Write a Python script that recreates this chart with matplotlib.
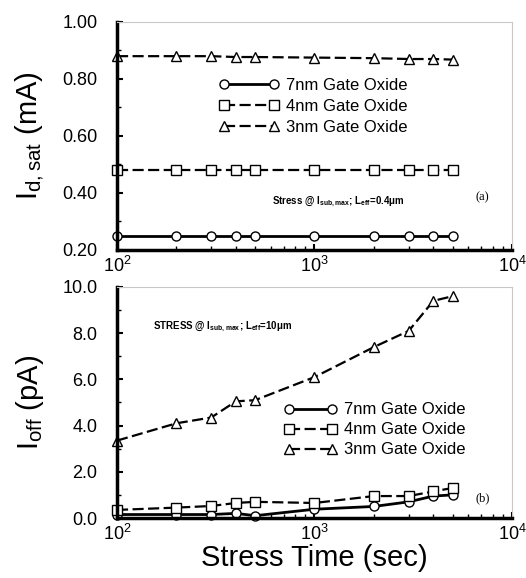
import matplotlib.pyplot as plt
from matplotlib.ticker import MultipleLocator, FormatStrFormatter, LogLocator, LogFormatterMathtext

plt.rcParams['font.family'] = ['Liberation Sans', 'DejaVu Sans']
plt.rcParams['mathtext.default'] = 'regular'

stress_time = [100, 200, 300, 400, 500, 1000, 2000, 3000, 4000, 5000]
labels = ["7nm Gate Oxide", "4nm Gate Oxide", "3nm Gate Oxide"]

idsat_7nm = [0.25, 0.25, 0.25, 0.25, 0.25, 0.25, 0.25, 0.25, 0.25, 0.25]
idsat_4nm = [0.48, 0.48, 0.48, 0.48, 0.48, 0.48, 0.48, 0.48, 0.48, 0.48]
idsat_3nm = [0.88, 0.88, 0.88, 0.877, 0.877, 0.875, 0.873, 0.87, 0.87, 0.868]

ioff_7nm = [0.15, 0.15, 0.15, 0.2, 0.1, 0.38, 0.5, 0.7, 0.95, 1.0]
ioff_4nm = [0.35, 0.45, 0.52, 0.65, 0.7, 0.65, 0.95, 0.95, 1.15, 1.3]
ioff_3nm = [3.35, 4.1, 4.35, 5.05, 5.1, 6.1, 7.4, 8.1, 9.4, 9.6]

styles = [
    dict(linestyle='-', linewidth=2.0),
    dict(linestyle=(0, (5, 2)), linewidth=1.6),
    dict(linestyle=(0, (5, 2)), linewidth=1.6),
]
markers = ['o', 's', '^']

fig = plt.figure(figsize=(5.26, 5.78), dpi=100)
ax1 = fig.add_axes([0.2224, 0.5675, 0.751, 0.3945])
ax2 = fig.add_axes([0.2224, 0.1038, 0.751, 0.3997])


def style_axis(ax):
    ax.set_xscale('log')
    ax.set_xlim(100, 10000)
    ax.spines['left'].set_linewidth(2.5)
    ax.spines['bottom'].set_linewidth(2.5)
    for s in ['top', 'right']:
        ax.spines[s].set_color('#c8c8c8')
        ax.spines[s].set_linewidth(0.8)
    ax.xaxis.set_major_locator(LogLocator(base=10))
    ax.xaxis.set_major_formatter(LogFormatterMathtext())
    ax.xaxis.set_minor_locator(LogLocator(base=10, subs=range(2, 10)))
    ax.tick_params(which='both', direction='in', top=False, right=False, labelsize=13)
    ax.tick_params(which='major', length=4, width=1.5)
    ax.tick_params(which='minor', length=3, width=1)
    ax.tick_params(axis='x', pad=4)
    ax.tick_params(axis='y', pad=14)


series1 = [idsat_7nm, idsat_4nm, idsat_3nm]
for vals, lab, m, st in zip(series1, labels, markers, styles):
    ax1.plot(stress_time, vals, marker=m, markersize=6.5, markerfacecolor='white',
             markeredgecolor='black', color='black', label=lab, clip_on=False, **st)
style_axis(ax1)
ax1.set_ylim(0.2, 1.0)
ax1.yaxis.set_major_locator(MultipleLocator(0.2))
ax1.yaxis.set_minor_locator(MultipleLocator(0.1))
ax1.yaxis.set_major_formatter(FormatStrFormatter('%.2f'))
ax1.set_ylabel(r"I$_{d,sat}$ (mA)", fontsize=21, labelpad=12)
ax1.legend(loc='upper left', bbox_to_anchor=(0.22, 0.82), frameon=False, fontsize=12,
           numpoints=2, handlelength=3.6, handletextpad=0.4, labelspacing=0.35)
ax1.text(0.56, 0.21, r"Stress @ I$_{sub,max}$; L$_{eff}$=0.4μm", transform=ax1.transAxes,
         fontsize=7, fontweight='bold', ha='center', va='center')
ax1.text(0.925, 0.23, "(a)", transform=ax1.transAxes, fontsize=9,
         family='Liberation Serif', ha='center', va='center')

series2 = [ioff_7nm, ioff_4nm, ioff_3nm]
for vals, lab, m, st in zip(series2, labels, markers, styles):
    ax2.plot(stress_time, vals, marker=m, markersize=6.5, markerfacecolor='white',
             markeredgecolor='black', color='black', label=lab, clip_on=False, **st)
style_axis(ax2)
ax2.set_ylim(0, 10)
ax2.yaxis.set_major_locator(MultipleLocator(2))
ax2.yaxis.set_minor_locator(MultipleLocator(1))
ax2.yaxis.set_major_formatter(FormatStrFormatter('%.1f'))
ax2.set_ylabel(r"I$_{off}$ (pA)", fontsize=21, labelpad=12)
ax2.set_xlabel("Stress Time (sec)", fontsize=21, labelpad=0)
ax2.legend(loc='upper left', bbox_to_anchor=(0.385, 0.565), frameon=False, fontsize=12,
           numpoints=2, handlelength=3.2, handletextpad=0.4, labelspacing=0.3)
ax2.text(0.09, 0.83, r"STRESS @ I$_{sub,max}$; L$_{eff}$=10μm", transform=ax2.transAxes,
         fontsize=7, fontweight='bold', ha='left', va='center')
ax2.text(0.925, 0.087, "(b)", transform=ax2.transAxes, fontsize=9,
         family='Liberation Serif', ha='center', va='center')

fig.savefig('out.png', dpi=100)
